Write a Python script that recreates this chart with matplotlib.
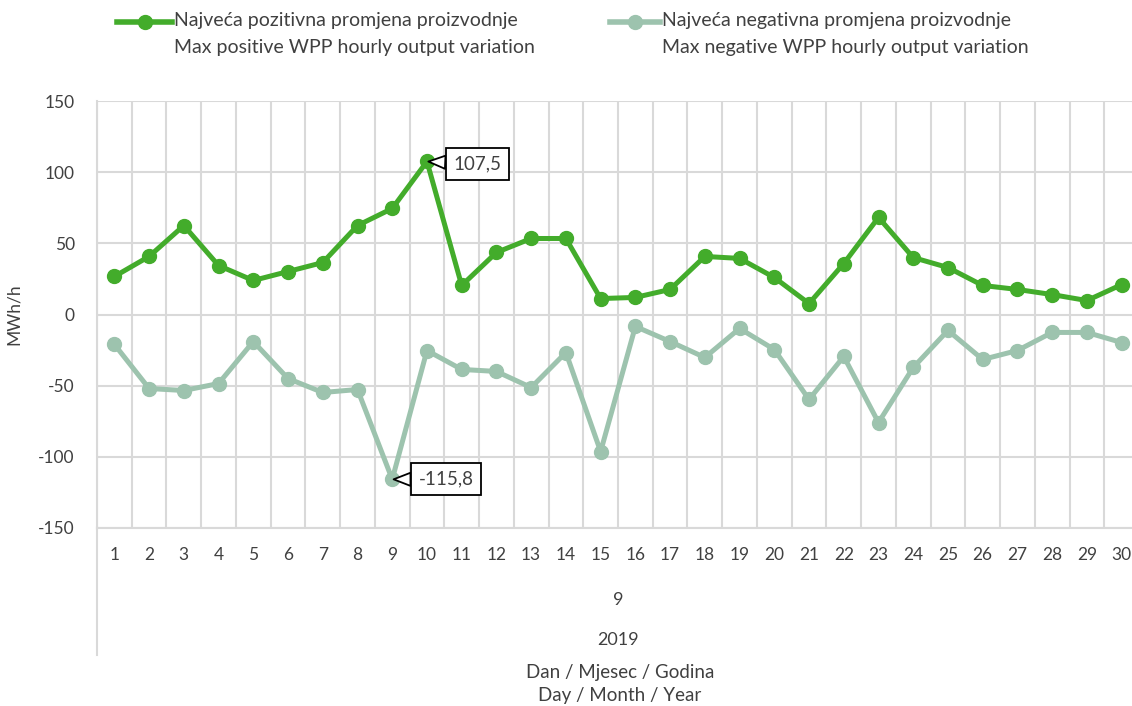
import numpy as np
import matplotlib
matplotlib.use("Agg")
import matplotlib.pyplot as plt
from matplotlib.lines import Line2D

plt.rcParams["font.family"] = ["Lato", "DejaVu Sans"]

days = list(range(1, 31))
month_label = "9"
year_label = "2019"
pos_label = "Najveća pozitivna promjena proizvodnje\nMax positive WPP hourly output variation"
neg_label = "Najveća negativna promjena proizvodnje\nMax negative WPP hourly output variation"
pos_vals = [26.7, 40.8, 62.5, 34.4, 23.9, 30.2, 36.5, 62.5, 74.5, 107.5,
            20.4, 43.6, 53.4, 53.4, 11.2, 12.0, 17.6, 40.8, 39.4, 26.0,
            7.7, 35.8, 68.2, 40.0, 33.0, 20.4, 17.6, 14.0, 9.8, 21.0]
neg_vals = [-21.0, -52.0, -53.4, -48.5, -19.0, -45.0, -54.8, -52.7, -115.8, -25.3,
            -38.6, -40.0, -51.3, -26.7, -96.3, -8.4, -19.0, -30.2, -9.8, -24.6,
            -59.7, -29.5, -75.9, -37.2, -11.2, -31.6, -25.3, -12.6, -12.6, -19.7]
yticks = [-150, -100, -50, 0, 50, 100, 150]
ylabel = "MWh/h"
xtitle = "Dan / Mjesec / Godina\nDay / Month / Year"

POS_C = "#43AC2B"
NEG_C = "#9DC3AE"
GRID_C = "#D9D9D9"
TXT_C = "#404040"

fig = plt.figure(figsize=(11.32, 7.06), dpi=100)
ax = fig.add_axes([97 / 1132, 1 - 528 / 706, 1042 / 1132, 427 / 706])

ax.plot(days, pos_vals, color=POS_C, lw=3.6, marker="o", ms=10, zorder=3)
ax.plot(days, neg_vals, color=NEG_C, lw=3.6, marker="o", ms=10, zorder=3)

ax.set_xlim(0.5, 30.5)
ax.set_ylim(-150, 150)
ax.set_yticks(yticks)
ax.set_yticklabels([str(v) for v in yticks], fontsize=12.5)
ax.set_xticks(days)
ax.set_xticklabels([str(d) for d in days], fontsize=12.5)
ax.tick_params(length=0, pad=14, colors=TXT_C)
ax.tick_params(axis="y", pad=16)
ax.set_xticks(np.arange(0.5, 31, 1), minor=True)
ax.tick_params(which="minor", length=0)
ax.grid(True, which="major", axis="y", color=GRID_C, lw=1.5)
ax.grid(True, which="minor", axis="x", color=GRID_C, lw=1.5)
ax.set_axisbelow(True)
for s in ["top", "right"]:
    ax.spines[s].set_visible(False)
for s in ["left", "bottom"]:
    ax.spines[s].set_color(GRID_C)
    ax.spines[s].set_linewidth(1.5)
ax.set_ylabel(ylabel, fontsize=12.5, color=TXT_C, labelpad=12)

# multi-level category axis
ax.plot([0.5, 0.5], [-150, -150 - 127 / 1.4233], color=GRID_C, lw=1.5, clip_on=False)
ax.text(15.5, -150 - 72 / 1.4233, month_label, ha="center", va="center", fontsize=13, color=TXT_C)
ax.text(15.5, -150 - 112 / 1.4233, year_label, ha="center", va="center", fontsize=13, color=TXT_C)
fig.text(620 / 1132, 1 - 684 / 706, xtitle, ha="center", va="center", fontsize=13.5,
         color=TXT_C, linespacing=1.4)

# callouts
imax = int(np.argmax(pos_vals))
imin = int(np.argmin(neg_vals))
for i, vals, off in [(imax, pos_vals, (19, -1.5)), (imin, neg_vals, (19, 0))]:
    ax.annotate(f"{vals[i]:.1f}".replace(".", ","), xy=(days[i], vals[i]), xytext=off,
                textcoords="offset points", ha="left", va="center", fontsize=13.5,
                color=TXT_C, zorder=5,
                bbox=dict(boxstyle="square,pad=0.4", fc="white", ec="black", lw=1.3),
                arrowprops=dict(arrowstyle="wedge,tail_width=0.7,shrink_factor=0.5",
                                fc="white", ec="black", lw=1.3, shrinkA=0, shrinkB=1))

# legend
for x0, x1, c, lab in [(117, 172, POS_C, pos_label), (610, 660, NEG_C, neg_label)]:
    fig.add_artist(Line2D([x0 / 1132, x1 / 1132], [1 - 22 / 706] * 2,
                          color=c, lw=4, transform=fig.transFigure))
    fig.add_artist(Line2D([(x0 + x1) / 2 / 1132], [1 - 22 / 706], color=c, marker="o", ms=10,
                          transform=fig.transFigure))
    fig.text((x1 + 2) / 1132, 1 - 12 / 706, lab, ha="left", va="top", fontsize=14,
             color=TXT_C, linespacing=1.75)

fig.savefig("out.png", dpi=100)
